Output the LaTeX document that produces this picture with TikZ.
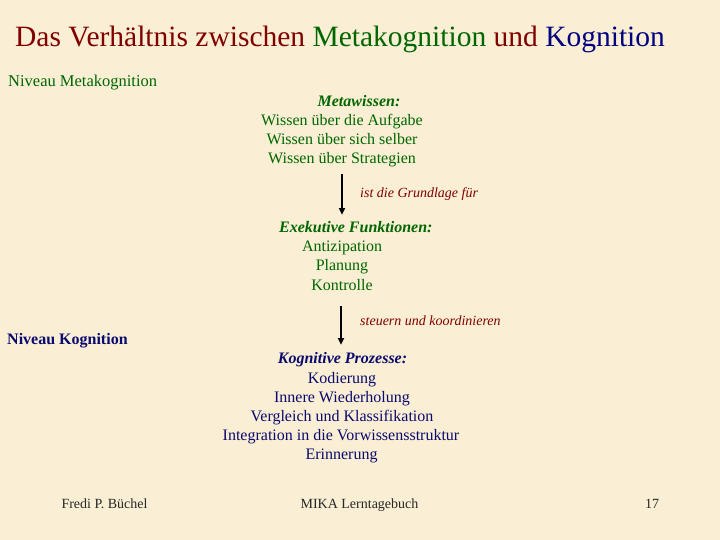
\documentclass[tikz,border=0pt]{standalone}
\usepackage{fontspec}
\setmainfont{Liberation Serif}
\usetikzlibrary{arrows.meta}
\definecolor{bg}{RGB}{250,239,212}
\definecolor{dred}{RGB}{128,0,0}
\definecolor{dgreen}{RGB}{0,102,0}
\definecolor{navy}{RGB}{0,0,128}
\definecolor{dnavy}{RGB}{10,10,110}
\newcommand{\fs}[1]{\fontsize{#1bp}{#1bp}\selectfont}
\begin{document}
\begin{tikzpicture}[x=1bp,y=-1bp,
  txt/.style={inner sep=0pt,anchor=base},
  ltxt/.style={inner sep=0pt,anchor=base west},
  body/.style={txt,font=\fs{16}},
  gbody/.style={body,text=dgreen},
  nbody/.style={body,text=dnavy},
  head/.style={font=\fs{16}\bfseries\itshape},
  lab/.style={ltxt,font=\fs{14}\itshape,text=dred},
  foot/.style={txt,font=\fs{14},text=black!85},
  arr/.style={line width=1.7bp,-{Triangle[length=6.5bp,width=6bp]}}]
\fill[bg] (0,0) rectangle (720,540);
\useasboundingbox (0,0) rectangle (720,540);
% title
\node[ltxt,font=\fs{29.5},text=dred] (title) at (15,47)
  {Das Verhältnis zwischen \textcolor{dgreen}{Metakognition} und \textcolor{navy}{Kognition}};
% levels
\node[ltxt,font=\fs{16.5},text=dgreen] (nmeta) at (8,87) {Niveau Metakognition};
\node[ltxt,font=\fs{16}\bfseries,text=dnavy] (nkog) at (7,344) {Niveau Kognition};
% Metawissen
\node[txt,head,text=dgreen] (mh) at (359,107) {Metawissen:};
\node[gbody] (w1) at (342,126) {Wissen über die Aufgabe};
\node[gbody] (w2) at (342,145) {Wissen über sich selber};
\node[gbody] (w3) at (342,164) {Wissen über Strategien};
% Exekutive Funktionen
\node[ltxt,head,text=dgreen] (eh) at (279,233) {Exekutive Funktionen:};
\node[gbody] (e1) at (342,252) {Antizipation};
\node[gbody] (e2) at (342,271) {Planung};
\node[gbody] (e3) at (342,290) {Kontrolle};
% Kognitive Prozesse
\node[txt,head,text=dnavy] (kh) at (342.5,363) {Kognitive Prozesse:};
\node[nbody] (k1) at (342,383) {Kodierung};
\node[nbody] (k2) at (342,402) {Innere Wiederholung};
\node[nbody] (k3) at (342,421) {Vergleich und Klassifikation};
\node[nbody] (k4) at (341,440) {Integration in die Vorwissensstruktur};
\node[nbody] (k5) at (341.5,459) {Erinnerung};
% arrows
\draw[arr,shorten <=6.5bp,shorten >=7bp] (w3.south) -- (w3.south |- eh.north);
\draw[arr,shorten <=16bp,shorten >=7bp] ([xshift=-1bp]e3.south) -- ([xshift=-1bp]e3.south |- kh.north);
\node[lab] (l1) at (360,198) {ist die Grundlage für};
\node[lab] (l2) at (360,325) {steuern und koordinieren};
% footer
\node[foot] (f1) at (104.5,508) {Fredi P. Büchel};
\node[foot] (f2) at (359.5,508) {MIKA Lerntagebuch};
\node[foot] (f3) at (652,508) {17};
\end{tikzpicture}
\end{document}
